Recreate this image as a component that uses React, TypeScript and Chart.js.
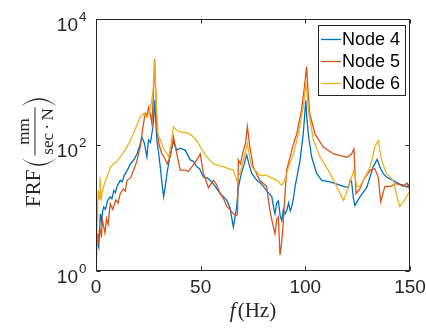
import React, { useEffect, useRef } from "react";
import { Chart, registerables } from "chart.js";

Chart.register(...registerables);

// ---- data ----
const xTicks = [0, 50, 100, 150];
const yTickExponents = [0, 2, 4];
const seriesNames = ["Node 4", "Node 5", "Node 6"];
const seriesColors = ["#0072BD", "#D95319", "#EDB120"];

const node4Freq = [0.5, 1.0, 1.3, 1.7, 2.1, 2.7, 3.2, 3.7, 4.5, 5.5, 6.8, 7.6, 8.5, 9.3, 10.0, 11.6, 12.5, 13.5, 15.0, 16.4, 18.0, 19.6, 21.0, 21.9, 23.0, 23.5, 24.3, 25.1, 26.0, 26.7, 27.4, 28.0, 28.6, 29.1, 30.0, 30.7, 31.5, 32.3, 33.1, 33.9, 35.5, 37.0, 38.6, 40.2, 42.6, 45.0, 46.5, 48.2, 49.5, 51.3, 53.0, 54.5, 57.0, 59.3, 61.0, 62.5, 64.0, 65.6, 66.5, 67.2, 68.0, 69.2, 70.4, 72.0, 73.2, 74.4, 76.8, 78.5, 79.9, 82.0, 84.0, 85.0, 85.5, 86.3, 87.1, 88.0, 88.7, 89.5, 90.3, 91.1, 92.0, 92.8, 93.5, 94.3, 95.1, 96.3, 97.5, 99.0, 99.7, 100.2, 100.7, 101.4, 103.0, 105.4, 107.8, 111.8, 116.5, 120.5, 121.5, 122.1, 123.0, 123.7, 126.1, 129.3, 132.4, 134.3, 135.6, 137.0, 138.7, 141.9, 145.0, 147.0, 148.5, 150.0];
const node4Values = [3.9, 2.6, 2.4, 4.2, 8.1, 6.0, 9.0, 10.4, 9.5, 13.0, 15.1, 14.0, 19.0, 17.5, 22.0, 27.5, 26.0, 33.0, 40.0, 50.0, 58.0, 72.0, 100.0, 135.0, 110.0, 91.0, 65.0, 120.0, 110.0, 151.0, 220.0, 513.0, 230.0, 117.0, 70.0, 45.0, 25.0, 15.1, 22.0, 35.5, 72.0, 112.0, 83.0, 89.0, 83.0, 58.0, 55.0, 45.0, 42.0, 31.0, 30.0, 27.5, 22.0, 17.0, 15.0, 13.2, 10.0, 5.0, 7.5, 10.5, 21.0, 33.0, 45.0, 69.0, 48.0, 35.5, 27.5, 25.0, 22.0, 18.0, 15.0, 9.5, 8.1, 12.0, 13.0, 7.5, 6.3, 9.5, 8.0, 9.1, 12.0, 9.0, 10.5, 14.0, 22.0, 35.0, 58.0, 150.0, 300.0, 513.0, 280.0, 150.0, 65.0, 35.5, 27.5, 26.0, 23.0, 21.0, 28.0, 26.0, 14.0, 11.0, 15.0, 21.0, 45.0, 59.0, 45.0, 36.0, 31.0, 27.5, 24.0, 23.0, 21.5, 24.5];

const node5Freq = [0.1, 0.5, 0.9, 1.3, 1.7, 2.1, 2.6, 3.0, 3.7, 4.3, 5.0, 5.8, 6.8, 8.0, 9.5, 10.5, 11.6, 13.0, 14.0, 14.8, 16.5, 18.0, 19.5, 21.1, 22.3, 23.5, 24.3, 25.1, 26.0, 26.7, 27.4, 28.0, 28.6, 29.1, 30.2, 31.5, 33.0, 34.0, 35.5, 37.0, 38.6, 40.2, 42.6, 44.0, 45.8, 48.2, 49.8, 51.3, 53.7, 56.1, 57.5, 59.3, 61.0, 62.5, 64.0, 65.6, 67.2, 67.6, 68.0, 69.0, 70.4, 71.5, 72.3, 73.5, 75.1, 78.2, 81.5, 82.3, 83.1, 84.2, 85.5, 86.3, 87.1, 87.9, 88.5, 89.2, 90.3, 91.1, 92.7, 94.0, 95.9, 98.2, 99.5, 100.6, 101.3, 102.1, 104.6, 108.6, 113.4, 118.2, 120.0, 122.1, 123.2, 124.2, 126.0, 127.7, 131.0, 133.2, 134.8, 136.0, 138.0, 140.6, 143.6, 146.8, 148.5, 150.0];
const node5Values = [1.0, 3.9, 2.6, 3.1, 4.8, 4.5, 3.4, 6.5, 5.0, 4.0, 6.8, 5.5, 11.7, 9.5, 13.5, 12.0, 17.0, 20.0, 18.5, 27.5, 30.0, 40.0, 55.0, 93.0, 180.0, 316.0, 290.0, 398.0, 300.0, 219.0, 600.0, 2340.0, 600.0, 170.0, 100.0, 72.0, 60.0, 50.0, 65.0, 135.0, 72.0, 40.0, 40.0, 38.0, 45.0, 58.0, 72.0, 35.5, 21.0, 27.5, 24.0, 17.0, 14.0, 10.5, 9.5, 8.1, 7.6, 8.0, 58.0, 50.0, 81.0, 110.0, 195.0, 93.0, 45.0, 27.5, 22.0, 14.0, 9.1, 6.0, 3.9, 6.5, 7.2, 1.8, 2.5, 4.5, 17.0, 40.0, 65.0, 95.0, 150.0, 360.0, 800.0, 1740.0, 700.0, 316.0, 150.0, 93.0, 72.0, 66.0, 64.0, 72.0, 87.0, 17.0, 20.0, 27.5, 40.0, 42.0, 31.0, 12.6, 22.0, 22.0, 24.5, 22.0, 25.0, 19.0];

const node6Freq = [0.1, 0.5, 0.8, 1.1, 1.5, 1.9, 2.5, 3.0, 3.5, 4.3, 5.2, 6.0, 7.0, 8.5, 10.0, 11.6, 13.0, 14.5, 16.4, 18.5, 21.1, 22.7, 24.3, 25.2, 26.1, 27.2, 28.0, 28.7, 29.6, 32.0, 34.7, 35.8, 37.0, 38.6, 41.0, 43.4, 45.8, 48.2, 49.8, 52.2, 56.1, 60.9, 65.6, 67.2, 68.8, 70.0, 71.2, 72.3, 73.2, 74.4, 76.5, 78.4, 81.5, 84.0, 86.4, 88.7, 89.8, 91.1, 92.5, 94.3, 96.7, 99.0, 99.8, 100.3, 100.9, 101.5, 103.9, 107.0, 111.8, 115.0, 118.2, 120.7, 123.2, 124.5, 126.0, 127.7, 131.0, 133.2, 134.8, 136.4, 138.7, 141.9, 145.0, 147.4, 150.0];
const node6Values = [1.0, 6.3, 12.0, 19.0, 14.0, 31.0, 14.0, 18.0, 21.0, 26.0, 31.0, 36.0, 45.0, 50.0, 55.0, 65.0, 75.0, 90.0, 117.0, 170.0, 275.0, 316.0, 275.0, 320.0, 398.0, 700.0, 2240.0, 500.0, 150.0, 93.0, 65.0, 100.0, 195.0, 170.0, 158.0, 158.0, 141.0, 117.0, 93.0, 69.0, 50.0, 45.0, 40.0, 27.5, 35.5, 50.0, 72.0, 105.0, 70.0, 45.0, 38.0, 33.0, 33.0, 30.0, 27.5, 23.0, 26.0, 35.5, 50.0, 72.0, 150.0, 398.0, 700.0, 955.0, 600.0, 355.0, 117.0, 65.0, 35.5, 22.0, 13.2, 22.0, 40.0, 22.0, 22.0, 27.5, 45.0, 93.0, 118.0, 58.0, 35.5, 27.5, 10.5, 13.2, 19.0];

const seriesFreqs = [node4Freq, node5Freq, node6Freq];
const seriesValues = [node4Values, node5Values, node6Values];

// ---- styling ----
const AXIS = "#262626";
const SANS = "'Liberation Sans', Arial, Helvetica, sans-serif";
const SERIF = "'Liberation Serif', 'DejaVu Serif', 'Times New Roman', serif";

const matlabPlugin = {
  id: "matlabDecor",
  afterDraw(chart: any) {
    const { ctx, chartArea: a, scales } = chart;
    const xs = scales.x;
    const ys = scales.y;
    ctx.save();

    // frame
    ctx.strokeStyle = AXIS;
    ctx.lineWidth = 1;
    const L = Math.round(a.left) + 0.5;
    const T = Math.round(a.top) + 0.5;
    const R = Math.round(a.right) - 0.5;
    const B = Math.round(a.bottom) - 0.5;
    ctx.strokeRect(L, T, R - L, B - T);

    // inward ticks
    const tl = 4;
    ctx.beginPath();
    for (const t of xTicks) {
      const px = Math.round(xs.getPixelForValue(t)) + 0.5;
      ctx.moveTo(px, B);
      ctx.lineTo(px, B - tl);
      ctx.moveTo(px, T);
      ctx.lineTo(px, T + tl);
    }
    for (const e of yTickExponents) {
      const py = Math.round(ys.getPixelForValue(Math.pow(10, e))) + 0.5;
      ctx.moveTo(L, py);
      ctx.lineTo(L + tl, py);
      ctx.moveTo(R, py);
      ctx.lineTo(R - tl, py);
    }
    ctx.stroke();

    // y tick labels 10^n
    ctx.fillStyle = AXIS;
    for (const e of yTickExponents) {
      const py = ys.getPixelForValue(Math.pow(10, e));
      ctx.font = `19px ${SANS}`;
      ctx.textAlign = "right";
      ctx.textBaseline = "alphabetic";
      ctx.fillText("10", 78, py + 12);
      ctx.font = `13.5px ${SANS}`;
      ctx.textAlign = "left";
      ctx.fillText(String(e), 79, py + 2);
    }

    // x axis title: f (Hz)
    ctx.fillStyle = AXIS;
    ctx.textBaseline = "alphabetic";
    ctx.textAlign = "left";
    const cx = (a.left + a.right) / 2;
    ctx.font = `italic 21px ${SERIF}`;
    const wf = ctx.measureText("f").width;
    ctx.font = `21px ${SERIF}`;
    const wh = ctx.measureText("(Hz)").width;
    const x0 = cx - (wf + 2 + wh) / 2;
    ctx.font = `italic 21px ${SERIF}`;
    ctx.fillText("f", x0, 317);
    ctx.font = `21px ${SERIF}`;
    ctx.fillText("(Hz)", x0 + wf + 2, 317);

    // y axis title: FRF (mm / sec·N), rotated
    ctx.save();
    ctx.translate(40, 207);
    ctx.rotate(-Math.PI / 2);
    ctx.fillStyle = AXIS;
    ctx.strokeStyle = AXIS;
    ctx.textAlign = "left";
    ctx.textBaseline = "alphabetic";
    let u = 0;
    ctx.font = `21px ${SERIF}`;
    ctx.fillText("FRF", u, 0);
    u += ctx.measureText("FRF").width + 3;
    const drawParen = (u0: number, left: boolean) => {
      const top = -19;
      const bot = 17;
      const mid = (top + bot) / 2;
      ctx.beginPath();
      if (left) {
        ctx.moveTo(u0 + 9, top);
        ctx.quadraticCurveTo(u0 - 7, mid, u0 + 9, bot);
        ctx.quadraticCurveTo(u0 - 4, mid, u0 + 9, top);
      } else {
        ctx.moveTo(u0, top);
        ctx.quadraticCurveTo(u0 + 16, mid, u0, bot);
        ctx.quadraticCurveTo(u0 + 13, mid, u0, top);
      }
      ctx.closePath();
      ctx.fill();
    };
    drawParen(u, true);
    u += 11;
    ctx.font = `17px ${SERIF}`;
    const numW = ctx.measureText("mm").width;
    const denText = "sec\u2009\u00B7\u2009N";
    const denW = ctx.measureText(denText).width;
    const fw = Math.max(numW, denW) + 2;
    ctx.fillText("mm", u + (fw - numW) / 2, -11);
    ctx.fillText(denText, u + (fw - denW) / 2, 13);
    ctx.fillRect(u, -5.5, fw, 1);
    u += fw + 1;
    drawParen(u, false);
    ctx.restore();

    // legend
    const lx = 318.5, ly = 25.5, lw = 87, lh = 70;
    ctx.fillStyle = "#ffffff";
    ctx.fillRect(lx, ly, lw, lh);
    ctx.strokeStyle = AXIS;
    ctx.lineWidth = 1;
    ctx.strokeRect(lx, ly, lw, lh);
    const rows = [39, 61, 83];
    ctx.font = `18px ${SANS}`;
    ctx.textAlign = "left";
    ctx.textBaseline = "middle";
    seriesNames.forEach((name, i) => {
      ctx.strokeStyle = seriesColors[i];
      ctx.lineWidth = 1.3;
      ctx.beginPath();
      ctx.moveTo(321, rows[i] + 0.5);
      ctx.lineTo(341, rows[i] + 0.5);
      ctx.stroke();
      ctx.fillStyle = "#000000";
      ctx.fillText(name, 342, rows[i] + 1);
    });

    ctx.restore();
  },
};

export default function App() {
  const canvasRef = useRef<HTMLCanvasElement | null>(null);

  useEffect(() => {
    const canvas = canvasRef.current;
    if (!canvas) return;
    const datasets = seriesNames.map((name, i) => ({
      label: name,
      data: seriesFreqs[i].map((f, j) => ({ x: f, y: seriesValues[i][j] })),
      borderColor: seriesColors[i],
      backgroundColor: seriesColors[i],
      borderWidth: 1.3,
      pointRadius: 0,
      tension: 0,
      fill: false,
      order: 3 - i,
    }));
    const chart = new Chart(canvas, {
      type: "line",
      data: { datasets },
      options: {
        animation: false,
        responsive: false,
        devicePixelRatio: 1,
        layout: { padding: { left: 0, right: 16, top: 19, bottom: 0 } },
        plugins: {
          legend: { display: false },
          tooltip: { enabled: false },
          title: { display: false },
        },
        scales: {
          x: {
            type: "linear",
            min: 0,
            max: 150,
            grid: { display: false, drawTicks: false },
            border: { display: false },
            ticks: {
              stepSize: 50,
              padding: 5,
              color: AXIS,
              font: { family: SANS, size: 19 },
              maxRotation: 0,
            },
            afterFit: (s: any) => {
              s.height = 58;
              s.paddingLeft = 0;
              s.paddingRight = 0;
            },
          },
          y: {
            type: "logarithmic",
            min: 1,
            max: 10000,
            grid: { display: false, drawTicks: false },
            border: { display: false },
            ticks: { display: false },
            afterFit: (s: any) => {
              s.width = 96;
              s.paddingTop = 0;
              s.paddingBottom = 0;
            },
          },
        },
      },
      plugins: [matlabPlugin],
    } as any);
    return () => chart.destroy();
  }, []);

  return (
    <div style={{ position: "fixed", left: 0, top: 0, width: 426, height: 329, background: "#fff" }}>
      <canvas ref={canvasRef} width={426} height={329} style={{ display: "block" }} />
    </div>
  );
}
